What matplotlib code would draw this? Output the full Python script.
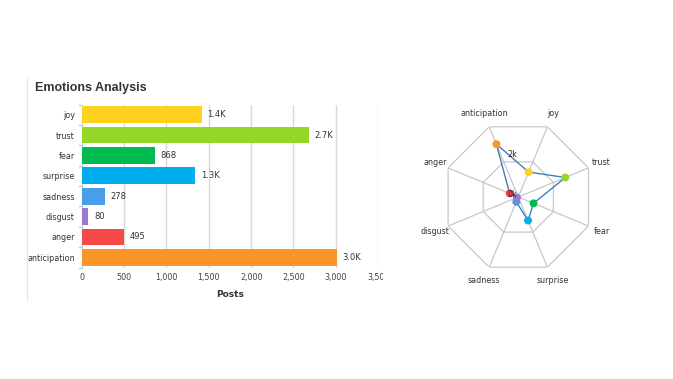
import numpy as np
import matplotlib
matplotlib.use("Agg")
import matplotlib.pyplot as plt
from matplotlib.patches import Rectangle
from matplotlib.lines import Line2D

# data
emotions = ["joy", "trust", "fear", "surprise", "sadness", "disgust", "anger", "anticipation"]
posts = [1420, 2680, 868, 1340, 278, 80, 495, 3010]
colors = ["#ffd21f", "#95d62b", "#00bb4f", "#00aeef", "#4a9de8", "#9977d3", "#f54848", "#fa9628"]
x_ticks = [0, 500, 1000, 1500, 2000, 2500, 3000, 3500]
x_ticklabels = ["0", "500", "1,000", "1,500", "2,000", "2,500", "3,000", "3,500"]
radar_rings = [2000, 4000]
radar_ringlabels = ["2k", "4k"]


def fmt(v):
    if v >= 1000:
        return "%.1fK" % (v / 1000.0)
    return str(v)


plt.rcParams['font.family'] = ['DejaVu Sans']
W, H = 673, 379
fig = plt.figure(figsize=(W / 100, H / 100), dpi=100)

# panel border on the left
fig.add_artist(Line2D([27 / W, 27 / W], [1 - 78 / H, 1 - 300 / H], color="#e8e8e8", lw=1))

fig.text(35 / W, 1 - 88 / H, "Emotions Analysis", fontsize=9, fontweight="bold",
         color="#333333", va="center", ha="left", family="Liberation Sans")

# ---- bar chart
ax = fig.add_axes([81.7 / W, 1 - 267.5 / H, (378.2 - 81.7) / W, (267.5 - 104.5) / H])
y = np.arange(len(emotions))
ax.barh(y, posts, height=0.82, color=colors, zorder=3)
for yi, v in zip(y, posts):
    ax.annotate(fmt(v), (v, yi), xytext=(4, 0), textcoords="offset points",
                va="center", ha="left", fontsize=6, color="#333333")
ax.set_xlim(0, 3500)
ax.set_ylim(len(emotions) - 0.5, -0.5)
ax.set_yticks(y)
ax.set_yticklabels(emotions, fontsize=5.8, color="#333333")
ax.set_yticks(np.arange(len(emotions) + 1) - 0.5, minor=True)
ax.tick_params(axis="y", which="major", length=0, pad=5)
ax.tick_params(axis="y", which="minor", length=3, color="#c0d0e0", width=1)
ax.set_xticks(x_ticks)
ax.set_xticklabels(x_ticklabels, fontsize=5.8, color="#444444")
ax.tick_params(axis="x", length=0, pad=4)
ax.grid(axis="x", color="#d8d8d8", lw=1, zorder=0)
for s in ["top", "right", "bottom"]:
    ax.spines[s].set_visible(False)
ax.spines["left"].set_color("#c0d0e0")
ax.set_xlabel("Posts", fontsize=6.5, fontweight="bold", color="#333333", labelpad=6)

# last tick label is cut at the chart edge
clip = Rectangle((0, 0), 383 / W, 1, transform=fig.transFigure)
for lab in ax.get_xticklabels():
    lab.set_clip_on(True)
    lab.set_clip_path(clip)

# ---- radar chart
cx, cy, R = 518.3, 197.0, 76.0
rax = fig.add_axes([(cx - R) / W, 1 - (cy + R) / H, 2 * R / W, 2 * R / H], projection="polar")
rax.set_theta_zero_location("N")
rax.set_theta_direction(-1)
rax.set_ylim(0, 4000)
rax.grid(False)
rax.spines["polar"].set_visible(False)
rax.set_xticks([])
rax.set_yticks([])
rax.patch.set_alpha(0)

angles = np.deg2rad(22.5 + 45 * np.arange(len(emotions)))
closed = np.append(angles, angles[0])
for r in radar_rings:
    rax.plot(closed, [r] * len(closed), color="#c8c8c8", lw=0.9, zorder=1)
for a in angles:
    rax.plot([a, a], [0, 4000], color="#c8c8c8", lw=0.9, zorder=1)

rax.plot(closed, posts + posts[:1], color="#3f7fbf", lw=1.0, zorder=3)
rax.scatter(angles, posts, c=colors, s=22, zorder=4, clip_on=False)

for a, name in zip(angles, emotions):
    rax.text(a, 4740, name, ha="center", va="center", fontsize=5.8, color="#333333",
             clip_on=False)

rax.annotate("0k", (0, 0), xytext=(-4, 2), textcoords="offset points",
             ha="center", va="center", fontsize=5.8, color="#222222", zorder=6)
rax.annotate(radar_ringlabels[0], (0, radar_rings[0]), xytext=(-4, 3), textcoords="offset points",
             ha="center", va="center", fontsize=5.8, color="#222222", zorder=6)

fig.savefig("out.png", dpi=100)
